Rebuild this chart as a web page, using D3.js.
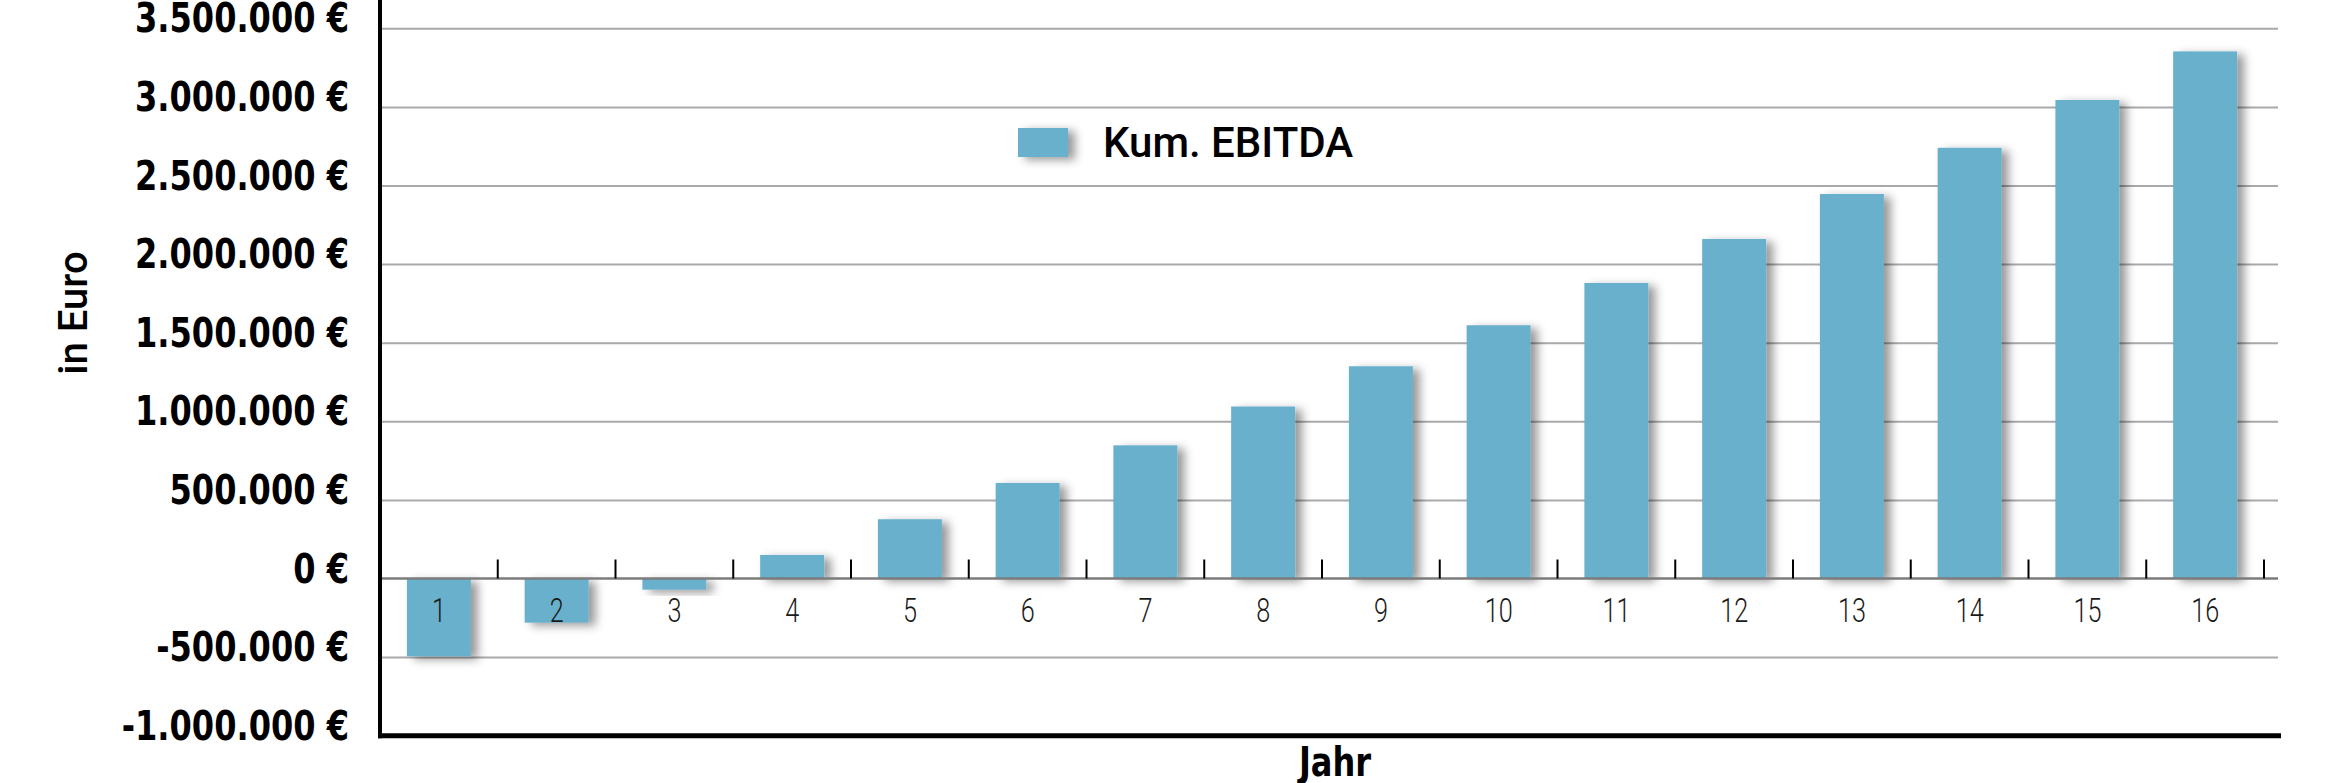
<!DOCTYPE html>
<html>
<head>
<meta charset="utf-8">
<script src="https://cdn.jsdelivr.net/npm/d3@7"></script>
<style>
  html, body { margin: 0; padding: 0; background: #fff; }
  svg { display: block; }
  .narrow { font-family: "Liberation Sans Narrow", "Arial Narrow", "DejaVu Sans Condensed", sans-serif; font-stretch: condensed; }
  .thin { font-family: Roboto, "DejaVu Sans Condensed", sans-serif; font-weight: 300; }
  .din { font-family: Roboto, "Liberation Sans", sans-serif; font-weight: 500; }
</style>
</head>
<body>
<div id="chart"></div>
<script>
// Daten: kumuliertes EBITDA je Jahr
const jahre = ["1", "2", "3", "4", "5", "6", "7", "8", "9", "10", "11", "12", "13", "14", "15", "16"];
const kumEbitda = [-495000, -281000, -71000, 150000, 377000, 608000, 847000, 1094000,
	1350000, 1611000, 1880000, 2160000, 2446000, 2740000, 3044000, 3353000];
const yTicks = [-1000000, -500000, 0, 500000, 1000000, 1500000, 2000000, 2500000, 3000000, 3500000];
const serienName = "Kum. EBITDA";

const W = 2349, H = 783;
const plotLeft = 380, plotRight = 2264, plotTop = 28.3, plotBottom = 735.7;
const gridEnd = 2278;
const barColor = "#67b0cc";

const svg = d3.select("#chart").append("svg")
	.attr("width", W)
	.attr("height", H);

// Schatten für Balken
const defs = svg.append("defs");
defs.append("filter")
	.attr("id", "shadow")
	.attr("x", "-50%").attr("y", "-50%")
	.attr("width", "200%").attr("height", "200%")
	.append("feDropShadow")
	.attr("dx", 7).attr("dy", 3)
	.attr("stdDeviation", 5)
	.attr("flood-color", "#000")
	.attr("flood-opacity", 0.4);

const x = d3.scaleBand()
	.domain(jahre)
	.range([plotLeft, plotRight])
	.paddingInner(0.457)
	.paddingOuter(0.457 / 2);

const y = d3.scaleLinear()
	.domain([-1000000, 3500000])
	.range([plotBottom, plotTop]);

const euro = v => d3.format(",")(v).replace(/,/g, ".").replace("−", "-") + " €";

// schmale Schrift nachbilden: horizontale Stauchung auf Zielbreite
function squeeze(sel, refText, targetWidth) {
	let ref = null;
	sel.each(function() { if (this.textContent === refText) ref = this; });
	const w = ref ? ref.getComputedTextLength() : targetWidth;
	return Math.min(1, targetWidth / w);
}

// Gitterlinien
const grid = svg.append("g")
	.attr("transform", `translate(${plotLeft},0)`)
	.call(d3.axisLeft(y).tickValues(yTicks.filter(v => v !== 0 && v !== -1000000))
		.tickSize(-(gridEnd - plotLeft)).tickFormat(""));
grid.select(".domain").remove();
grid.selectAll("line")
	.attr("stroke", "#a9a9a9")
	.attr("stroke-width", 2);

// Y-Achsenbeschriftung
const yLabels = svg.append("g")
	.selectAll("text")
	.data(yTicks)
	.join("text")
	.attr("class", "narrow")
	.attr("text-anchor", "end")
	.attr("font-size", 41)
	.attr("font-weight", "bold")
	.attr("fill", "#000")
	.text(euro);
const sy = squeeze(yLabels, euro(3500000), 214);
yLabels.attr("transform", d => `translate(349,${y(d) + 4}) scale(${sy},1)`);

// Balken
svg.append("g")
	.selectAll("rect")
	.data(kumEbitda)
	.join("rect")
	.attr("x", (d, i) => x(jahre[i]))
	.attr("y", d => y(Math.max(d, 0)))
	.attr("width", x.bandwidth())
	.attr("height", d => Math.abs(y(d) - y(0)))
	.attr("fill", barColor)
	.attr("filter", "url(#shadow)");

// Nulllinie mit Teilstrichen
svg.append("line")
	.attr("x1", plotLeft).attr("x2", gridEnd)
	.attr("y1", y(0)).attr("y2", y(0))
	.attr("stroke", "#7c7c7c")
	.attr("stroke-width", 2.5);

svg.append("g")
	.selectAll("line")
	.data(jahre)
	.join("line")
	.attr("x1", d => x(d) + x.bandwidth() / 2 + x.step() / 2)
	.attr("x2", d => x(d) + x.bandwidth() / 2 + x.step() / 2)
	.attr("y1", y(0))
	.attr("y2", y(0) - 19)
	.attr("stroke", "#000")
	.attr("stroke-width", 2);

// Kategorienbeschriftung
const xLabels = svg.append("g")
	.selectAll("text")
	.data(jahre)
	.join("text")
	.attr("class", "thin")
	.attr("text-anchor", "middle")
	.attr("font-size", 33)
	.attr("fill", "#1a1a1a")
	.text(d => d);
const sx = squeeze(xLabels, "10", 28);
xLabels.attr("transform", d => `translate(${x(d) + x.bandwidth() / 2},622) scale(${sx},1)`);

// Achsen
svg.append("line")
	.attr("x1", plotLeft).attr("x2", plotLeft)
	.attr("y1", 0).attr("y2", plotBottom + 2.5)
	.attr("stroke", "#000")
	.attr("stroke-width", 4);
svg.append("line")
	.attr("x1", plotLeft - 2).attr("x2", 2281)
	.attr("y1", plotBottom).attr("y2", plotBottom)
	.attr("stroke", "#000")
	.attr("stroke-width", 5);

// Achsentitel
svg.append("text")
	.attr("class", "din")
	.attr("transform", `translate(87, 313) rotate(-90)`)
	.attr("text-anchor", "middle")
	.attr("font-size", 40)
	.attr("fill", "#000")
	.text("in Euro");

const jahrLabel = svg.append("text")
	.attr("class", "narrow")
	.attr("text-anchor", "middle")
	.attr("font-size", 41)
	.attr("font-weight", "bold")
	.attr("fill", "#000")
	.text("Jahr");
jahrLabel.attr("transform", `translate(1335,776) scale(${sy},1)`);

// Legende
const legend = svg.append("g").attr("transform", "translate(1018,128)");
legend.append("rect")
	.attr("width", 50).attr("height", 29)
	.attr("fill", barColor)
	.attr("filter", "url(#shadow)");
legend.append("text")
	.attr("class", "din")
	.attr("x", 85).attr("y", 29)
	.attr("font-size", 42)
	.attr("fill", "#000")
	.text(serienName);
</script>
</body>
</html>
